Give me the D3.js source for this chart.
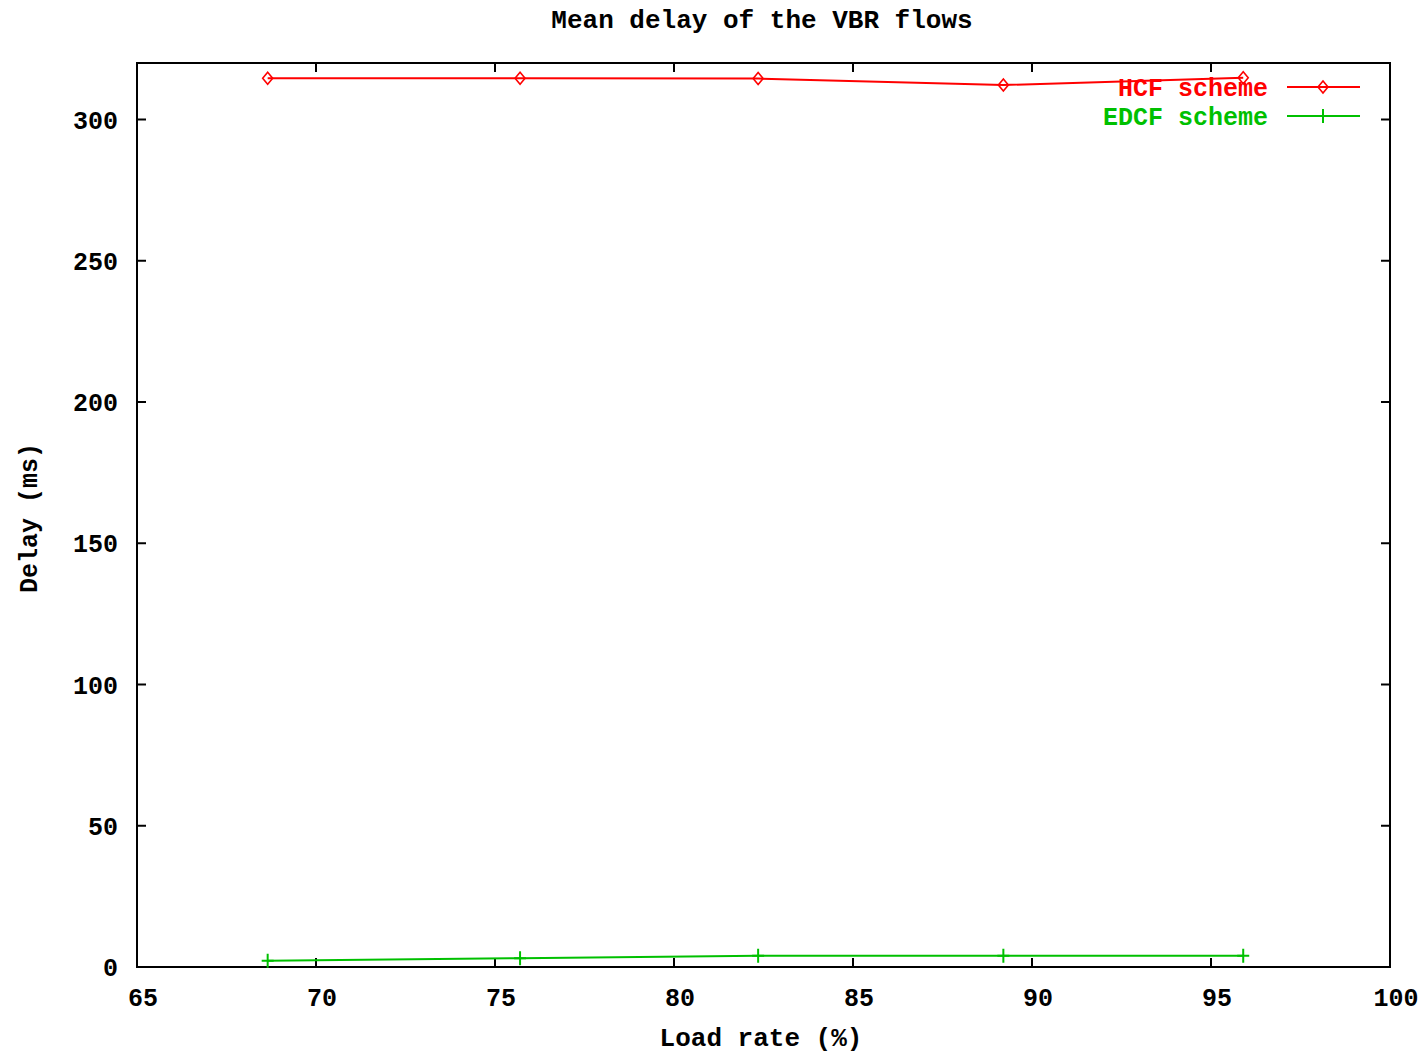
<!DOCTYPE html>
<html>
<head>
<meta charset="utf-8">
<script src="https://cdn.jsdelivr.net/npm/d3@7"></script>
<style>
body { margin: 0; background: #fff; }
text { font-family: "Liberation Mono", "DejaVu Sans Mono", monospace; font-weight: bold; }
</style>
</head>
<body>
<svg id="chart" width="1425" height="1055"></svg>
<script>
// data
const loadRate = [68.65, 75.7, 82.35, 89.2, 95.9];
const hcfDelay = [314.6, 314.6, 314.5, 312.2, 314.8];
const edcfDelay = [2.2, 3.1, 4.0, 4.0, 4.0];
const xTicks = [65, 70, 75, 80, 85, 90, 95, 100];
const yTicks = [0, 50, 100, 150, 200, 250, 300];

const margin = { top: 63, right: 35, bottom: 88, left: 137 };
const width = 1425 - margin.left - margin.right,
      height = 1055 - margin.top - margin.bottom;

const svg = d3.select("#chart");
const g = svg.append("g").attr("transform", `translate(${margin.left},${margin.top})`);

const x = d3.scaleLinear().domain([65, 100]).range([0, width]);
const y = d3.scaleLinear().domain([0, 320]).range([height, 0]);

const tickLen = 9;
const fontSize = 25;

// frame
g.append("rect").attr("width", width).attr("height", height)
  .attr("fill", "none").attr("stroke", "#000").attr("stroke-width", 2);

// x ticks (bottom + mirrored top)
xTicks.forEach(t => {
  g.append("line").attr("x1", x(t)).attr("x2", x(t)).attr("y1", height).attr("y2", height - tickLen)
    .attr("stroke", "#000").attr("stroke-width", 2);
  g.append("line").attr("x1", x(t)).attr("x2", x(t)).attr("y1", 0).attr("y2", tickLen)
    .attr("stroke", "#000").attr("stroke-width", 2);
  g.append("text").attr("x", x(t) + 6).attr("y", height + 39)
    .attr("text-anchor", "middle").attr("font-size", fontSize).text(t);
});

// y ticks (left + mirrored right)
yTicks.forEach(t => {
  g.append("line").attr("x1", 0).attr("x2", tickLen).attr("y1", y(t)).attr("y2", y(t))
    .attr("stroke", "#000").attr("stroke-width", 2);
  g.append("line").attr("x1", width).attr("x2", width - tickLen).attr("y1", y(t)).attr("y2", y(t))
    .attr("stroke", "#000").attr("stroke-width", 2);
  g.append("text").attr("x", -19).attr("y", y(t) + 9)
    .attr("text-anchor", "end").attr("font-size", fontSize).text(t);
});

// titles
svg.append("text").attr("x", 762).attr("y", 28).attr("text-anchor", "middle")
  .attr("font-size", 26).text("Mean delay of the VBR flows");
svg.append("text").attr("x", 761).attr("y", 1046).attr("text-anchor", "middle")
  .attr("font-size", 26).text("Load rate (%)");
svg.append("text").attr("transform", "translate(37,518) rotate(-90)").attr("text-anchor", "middle")
  .attr("font-size", fontSize).text("Delay (ms)");

const series = [
  { name: "HCF scheme", values: hcfDelay, color: "#ff0000", mark: "diamond" },
  { name: "EDCF scheme", values: edcfDelay, color: "#00c000", mark: "plus" }
];

function drawMark(sel, type, cx, cy, color) {
  if (type === "diamond") {
    sel.append("path")
      .attr("d", `M${cx - 5},${cy} L${cx},${cy - 6} L${cx + 5},${cy} L${cx},${cy + 6} Z`)
      .attr("fill", "none").attr("stroke", color).attr("stroke-width", 1.6);
  } else {
    sel.append("path")
      .attr("d", `M${cx - 6},${cy} L${cx + 6},${cy} M${cx},${cy - 7} L${cx},${cy + 7}`)
      .attr("fill", "none").attr("stroke", color).attr("stroke-width", 2);
  }
}

const line = d3.line().x(d => x(d[0])).y(d => y(d[1]));

series.forEach((s, i) => {
  const pts = loadRate.map((v, k) => [v, s.values[k]]);
  g.append("path").datum(pts).attr("d", line)
    .attr("fill", "none").attr("stroke", s.color).attr("stroke-width", 2);
  pts.forEach(p => drawMark(g, s.mark, x(p[0]), y(p[1]), s.color));

  // legend
  const ly = 87 + i * 29;
  svg.append("text").attr("x", 1268).attr("y", ly + 9).attr("text-anchor", "end")
    .attr("font-size", fontSize).attr("fill", s.color).text(s.name);
  svg.append("line").attr("x1", 1287).attr("x2", 1360).attr("y1", ly).attr("y2", ly)
    .attr("stroke", s.color).attr("stroke-width", 2);
  drawMark(svg, s.mark, 1323, ly, s.color);
});
</script>
</body>
</html>
